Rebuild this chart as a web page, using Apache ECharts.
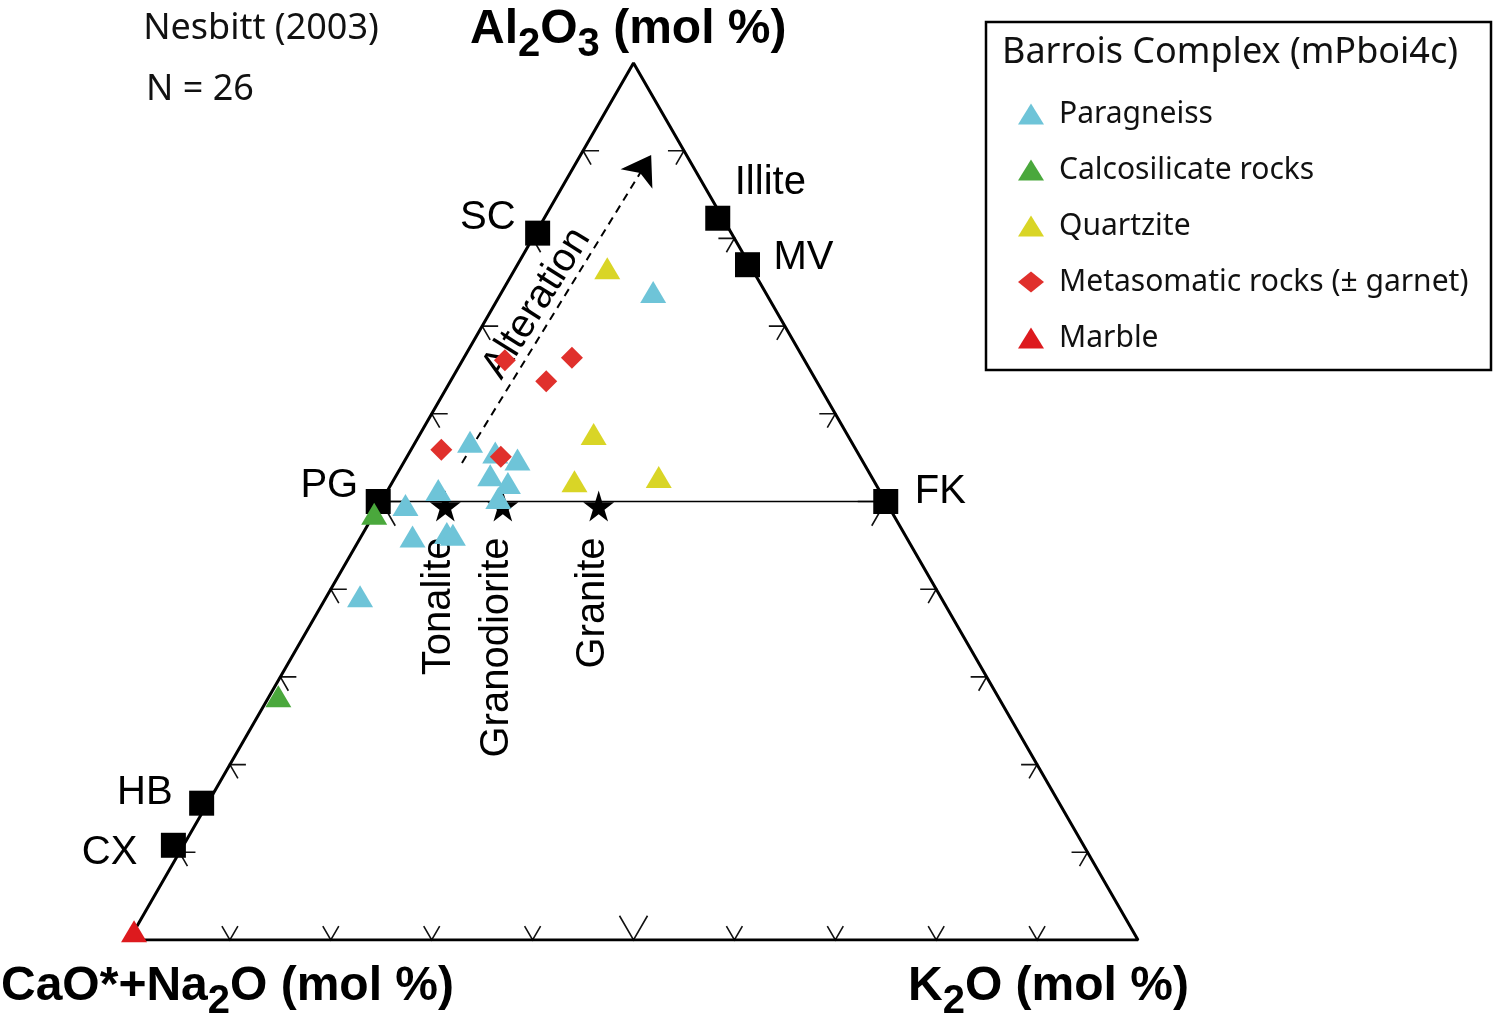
<!DOCTYPE html>
<html>
<head>
<meta charset="UTF-8" />
<script type="text/javascript" src="https://cdn.jsdelivr.net/npm/echarts@6/dist/echarts.min.js"></script>
<title>A-CN-K</title>
<style>html,body{margin:0;padding:0;background:#fff}</style>
</head>
<body>
<div id="main" style="width:1499px;height:1035px"></div>
<script type="text/javascript">
	// ternary values as [A, K] in mol %, CN = 100 - A - K
	var paragneiss = [[56.8,5.4],[55.6,8.5],[54.8,11.1],[53.0,9.3],[52.1,11.5],[51.3,5.0],[50.4,11.4],[49.6,2.6],[46.0,5.1],[46.4,8.3],[46.2,9.0],[73.9,15.0],[39.2,3.3]]
	var calcosilicate = [[48.6,0],[27.8,0.9]]
	var quartzite = [[76.6,9.1],[57.7,17.2],[52.3,18.0],[52.8,26.1]]
	var metasomatic = [[66.1,4.2],[66.4,10.7],[63.7,9.5],[55.9,3.0],[55.1,9.3]]
	var marble = [[1,0]]

	var minerals = ['SC','Illite','MV','PG','FK','HB','CX']
	var mineralAK = [[80.6,0.2],[82.3,17.2],[77,22.8],[50,-0.3],[50,50],[15.6,-0.6],[10.8,-1.0]]
	var rocks = ['Tonalite','Granodiorite','Granite']
	var rockAK = [[49.5,6.6],[49.5,12.3],[49.5,21.8]]
	var tickValues = [10,20,30,40,50,60,70,80,90]
	var alteration = [[54.4,5.8],[89.5,7.0]]

	// label placement (px offset of the label from the marker centre)
	var mineralLabel = {
		SC : [-22,-15,'right'], Illite : [17,-35,'left'], MV : [26,-7,'left'],
		PG : [-20,-16,'right'], FK : [29,-10,'left'], HB : [-29,-10,'right'], CX : [-36,8,'right']
	}
	var alterLabelAK = [72.6,4.1]

	function xy(a, k) {
		return [k + a / 2, a]
	}
	function pts(arr) {
		return arr.map(function(d) { return xy(d[0], d[1]) })
	}

	var arial = 'Liberation Sans'
	var sans = 'Noto Sans'
	var ticks = []
	tickValues.forEach(function(v) {
		ticks.push(xy(0, v).concat([0, v]))
		ticks.push(xy(v, 0).concat([1, v]))
		ticks.push(xy(v, 100 - v).concat([2, v]))
	})

	// axis titles with lowered subscripts, one text piece per part
	var ctx = document.createElement('canvas').getContext('2d')
	function chemTitle(x, y, parts) {
		var out = [], cx = x
		parts.forEach(function(p) {
			var sub = p[1], fs = sub ? 40 : 48
			ctx.font = 'bold ' + fs + 'px "' + arial + '"'
			out.push({ type : 'text', x : cx, y : y + (sub ? 15 : 0),
				style : { text : p[0], fontFamily : arial, fontWeight : 'bold', fontSize : fs, fill : '#000', verticalAlign : 'middle' } })
			cx += ctx.measureText(p[0]).width
		})
		return out
	}

	var star = 'path://M50,0 L61,35 L98,35 L68,57 L79,91 L50,70 L21,91 L32,57 L2,35 L39,35 Z'

	var graphics = [
		{ type : 'rect', shape : { x : 986, y : 22, width : 505, height : 348 },
			style : { fill : 'none', stroke : '#000', lineWidth : 2.5 } },
		{ type : 'text', x : 1002, y : 53, style : { text : 'Barrois Complex (mPboi4c)', fontFamily : sans, fontSize : 36, fill : '#111', verticalAlign : 'middle' } },
		{ type : 'text', x : 261, y : 29, style : { text : 'Nesbitt (2003)', fontFamily : sans, fontSize : 36, fill : '#111', align : 'center', verticalAlign : 'middle' } },
		{ type : 'text', x : 146, y : 90, style : { text : 'N = 26', fontFamily : sans, fontSize : 36, fill : '#111', verticalAlign : 'middle' } }
	]
	graphics = graphics.concat(
		chemTitle(470, 30, [['Al'],['2',1],['O'],['3',1],[' (mol %)']]),
		chemTitle(1, 987, [['CaO*+Na'],['2',1],['O (mol %)']]),
		chemTitle(908, 987, [['K'],['2',1],['O (mol %)']])
	)

	var option = {
		animation : false,
		grid : { left : 129, top : 63, width : 1009, height : 877 },
		xAxis : { type : 'value', min : 0, max : 100, show : false },
		yAxis : { type : 'value', min : 0, max : 100, show : false },
		legend : {
			data : ['Paragneiss','Calcosilicate rocks','Quartzite','Metasomatic rocks (± garnet)','Marble'],
			orient : 'vertical', left : 1018, top : 99, padding : 0,
			itemWidth : 26, itemHeight : 21, itemGap : 26,
			textStyle : { fontFamily : sans, fontSize : 30, color : '#111', padding : [0,0,0,10] }
		},
		graphic : graphics,
		series : [
			{
				type : 'line', silent : true, symbol : 'none', z : 2,
				data : [xy(0,0), xy(100,0), xy(0,100), xy(0,0)],
				lineStyle : { color : '#000', width : 3 }
			},
			{
				type : 'line', silent : true, symbol : 'none', z : 2,
				data : [xy(50,0), xy(50,50)],
				lineStyle : { color : '#000', width : 1.5 }
			},
			{
				type : 'custom', silent : true, z : 2,
				data : ticks,
				renderItem : function(params, api) {
					var p = api.coord([api.value(0), api.value(1)])
					var side = api.value(2)
					var len = api.value(3) === 50 ? 28 : 16
					var c = 0.5 * len, s = 0.866 * len
					var a, b
					if (side === 0) { a = [p[0] - c, p[1] - s]; b = [p[0] + c, p[1] - s] }
					else if (side === 1) { a = [p[0] + len, p[1]]; b = [p[0] + c, p[1] + s] }
					else { a = [p[0] - len, p[1]]; b = [p[0] - c, p[1] + s] }
					return { type : 'polyline', shape : { points : [a, p, b] },
						style : { stroke : '#111', lineWidth : 1.6, fill : null } }
				}
			},
			{
				type : 'lines', coordinateSystem : 'cartesian2d', silent : true, z : 3,
				data : [{ coords : pts(alteration) }],
				symbol : ['none','arrow'], symbolSize : 28,
				lineStyle : { color : '#000', width : 2, type : [8,6], opacity : 1 }
			},
			{
				type : 'scatter', silent : true, z : 3,
				data : [{ value : xy(alterLabelAK[0], alterLabelAK[1]) }],
				symbolSize : 1, itemStyle : { color : 'rgba(0,0,0,0)', opacity : 1 },
				label : { show : true, position : 'inside', formatter : 'Alteration', rotate : 58,
					fontFamily : arial, fontSize : 40, color : '#000', opacity : 1 }
			},
			{
				type : 'scatter', silent : true, z : 4, symbol : 'rect', symbolSize : 25,
				itemStyle : { color : '#000', opacity : 1 },
				data : minerals.map(function(n, i) {
					var l = mineralLabel[n]
					return { name : n, value : xy(mineralAK[i][0], mineralAK[i][1]),
						label : { show : true, formatter : n, position : [12.5 + l[0], 12.5 + l[1]], align : l[2], verticalAlign : 'middle',
							fontFamily : arial, fontSize : 40, color : '#000' } }
				})
			},
			{
				type : 'scatter', silent : true, z : 4, symbol : star, symbolSize : 31,
				itemStyle : { color : '#000', opacity : 1 },
				data : rocks.map(function(n, i) {
					return { name : n, value : xy(rockAK[i][0], rockAK[i][1]),
						label : { show : true, formatter : n, position : [9.5, 47], rotate : 90, align : 'right', verticalAlign : 'middle',
							fontFamily : arial, fontSize : 40, color : '#000' } }
				})
			},
			{ name : 'Paragneiss', type : 'scatter', z : 5, symbol : 'triangle', symbolSize : [26,22],
				itemStyle : { color : '#6ec4d8', opacity : 1 }, data : pts(paragneiss) },
			{ name : 'Calcosilicate rocks', type : 'scatter', z : 5, symbol : 'triangle', symbolSize : [26,22],
				itemStyle : { color : '#4aa83c', opacity : 1 }, data : pts(calcosilicate) },
			{ name : 'Quartzite', type : 'scatter', z : 5, symbol : 'triangle', symbolSize : [26,22],
				itemStyle : { color : '#d9d526', opacity : 1 }, data : pts(quartzite) },
			{ name : 'Metasomatic rocks (± garnet)', type : 'scatter', z : 6, symbol : 'diamond', symbolSize : 22,
				itemStyle : { color : '#e0302c', opacity : 1 }, data : pts(metasomatic) },
			{ name : 'Marble', type : 'scatter', z : 6, symbol : 'triangle', symbolSize : [26,22],
				itemStyle : { color : '#dd1a1e', opacity : 1 }, data : pts(marble) }
		]
	}

	var myChart = echarts.init(document.getElementById('main'))
	myChart.setOption(option)
</script>
</body>
</html>
